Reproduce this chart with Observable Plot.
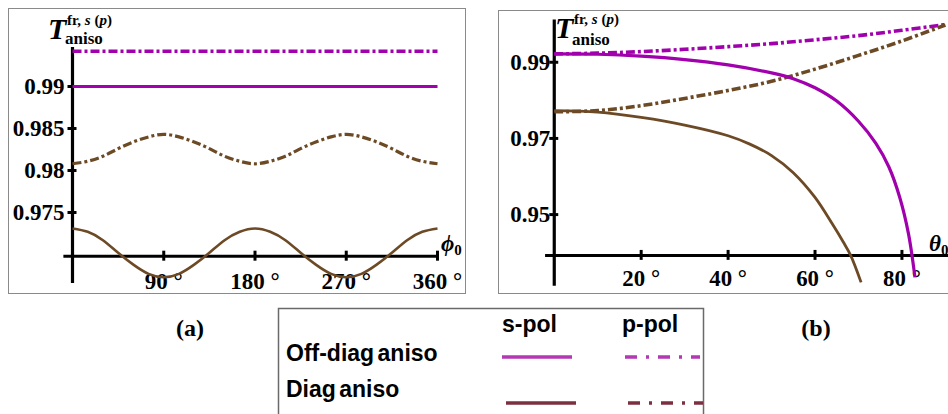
<!DOCTYPE html>
<html>
<head>
<meta charset="utf-8">
<script src="https://cdn.jsdelivr.net/npm/d3@7"></script>
<script src="https://cdn.jsdelivr.net/npm/@observablehq/plot@0.6"></script>
<style>
  html, body { margin: 0; padding: 0; background: #fff; }
  #page { position: relative; width: 948px; height: 414px; overflow: hidden; background: #fff; font-family: "Liberation Serif", serif; }
  .abs { position: absolute; }
  .frame { position: absolute; border: 1.5px solid #8a8a8a; box-sizing: border-box; pointer-events: none; }
</style>
</head>
<body>
<div id="page">
  <div id="pa" class="abs" style="left:8px; top:8px;"></div>
  <div id="pb" class="abs" style="left:498px; top:10px;"></div>
  <div class="frame" style="left:8px; top:8px; width:458px; height:286px;"></div>
  <div class="frame" style="left:498px; top:10px; width:460px; height:284px;"></div>
  <svg class="abs" style="left:0; top:0;" width="948" height="414" font-family="Liberation Serif" font-weight="bold">
    <!-- axis titles panel (a) -->
    <text x="48" y="39" font-size="30" font-style="italic">T</text>
    <text x="67" y="25" font-size="15">fr, <tspan font-style="italic">s</tspan> (<tspan font-style="italic">p</tspan>)</text>
    <text x="65" y="44" font-size="17">aniso</text>
    <text x="441" y="251" font-size="23" font-style="italic">ϕ<tspan font-size="15" font-style="normal" dy="4">0</tspan></text>
    <!-- axis titles panel (b) -->
    <text x="555" y="38" font-size="30" font-style="italic">T</text>
    <text x="574" y="24" font-size="15">fr, <tspan font-style="italic">s</tspan> (<tspan font-style="italic">p</tspan>)</text>
    <text x="572" y="45" font-size="17">aniso</text>
    <text x="929" y="251" font-size="23" font-style="italic">θ<tspan font-size="15" font-style="normal" dy="4">0</tspan></text>
    <!-- panel captions -->
    <text x="190" y="336" font-size="24" text-anchor="middle">(a)</text>
    <text x="816" y="336" font-size="24" text-anchor="middle">(b)</text>
    <!-- legend -->
    <g font-family="Liberation Sans" font-weight="bold" font-size="23">
      <rect x="278.5" y="308.5" width="425" height="130" fill="none" stroke="#6a6a6a" stroke-width="1.5"></rect>
      <text x="502" y="332">s-pol</text>
      <text x="622" y="332">p-pol</text>
      <text x="286" y="361" word-spacing="-3">Off-diag aniso</text>
      <text x="286" y="397" word-spacing="-3">Diag aniso</text>
      <line x1="502" x2="572" y1="357" y2="357" stroke="#b438b4" stroke-width="3.5"></line>
      <line x1="625" x2="700" y1="357" y2="357" stroke="#b438b4" stroke-width="3.5" stroke-dasharray="12,9,3,9"></line>
      <line x1="506" x2="576" y1="403" y2="403" stroke="#7b2f3f" stroke-width="3.5"></line>
      <line x1="628" x2="703" y1="403" y2="403" stroke="#7b2f3f" stroke-width="3.5" stroke-dasharray="12,9,3,9"></line>
    </g>
  </svg>
</div>
<script>
// ---------- Panel (a): T vs phi0 ----------
const phiA = [0,15,30,45,60,75,90,105,120,135,150,165,180,195,210,225,240,255,270,285,300,315,330,345,360];
const offDiagS_A = [0.99,0.99,0.99,0.99,0.99,0.99,0.99,0.99,0.99,0.99,0.99,0.99,0.99,0.99,0.99,0.99,0.99,0.99,0.99,0.99,0.99,0.99,0.99,0.99,0.99];
const offDiagP_A = [0.9942,0.9942,0.9942,0.9942,0.9942,0.9942,0.9942,0.9942,0.9942,0.9942,0.9942,0.9942,0.9942,0.9942,0.9942,0.9942,0.9942,0.9942,0.9942,0.9942,0.9942,0.9942,0.9942,0.9942,0.9942];
const diagS_A = [0.9731,0.9727,0.9717,0.9702,0.9688,0.9677,0.9673,0.9677,0.9688,0.9702,0.9717,0.9727,0.9731,0.9727,0.9717,0.9702,0.9688,0.9677,0.9673,0.9677,0.9688,0.9702,0.9717,0.9727,0.9731];
const diagP_A = [0.9808,0.9811,0.9817,0.9826,0.9834,0.9840,0.9843,0.9840,0.9834,0.9826,0.9817,0.9811,0.9808,0.9811,0.9817,0.9826,0.9834,0.9840,0.9843,0.9840,0.9834,0.9826,0.9817,0.9811,0.9808];
const xTicksA = [90,180,270,360];
const xTickLabelsA = ["90 °","180 °","270 °","360 °"];
const yTicksA = [0.99,0.985,0.98,0.975];
const yTickLabelsA = ["0.99","0.985","0.98","0.975"];

// ---------- Panel (b): T vs theta0 ----------
const thetaOffS_B = [0,10,20,30,40,50,55,60,65,70,74,77,79.5,81.5,83];
const offDiagS_B = [0.9922,0.9921,0.9916,0.9907,0.9893,0.9872,0.9857,0.9833,0.9798,0.9745,0.9687,0.9625,0.9545,0.9450,0.9335];
const thetaOffP_B = [0,10,20,30,40,50,60,70,80,90];
const offDiagP_B = [0.9922,0.9924,0.9928,0.9934,0.9941,0.9949,0.9959,0.9970,0.9984,0.9999];
const thetaDiagS_B = [0,10,20,30,40,45,50,55,60,64,66.5,68.2,70.6];
const diagS_B = [0.9773,0.9769,0.9755,0.9735,0.9707,0.9685,0.9655,0.9610,0.9545,0.9475,0.9428,0.9393,0.9322];
const thetaDiagP_B = [0,10,20,30,40,50,60,70,80,90];
const diagP_B = [0.9770,0.9773,0.9786,0.9805,0.9826,0.9850,0.9882,0.9918,0.9956,0.9998];
const xTicksB = [20,40,60,80];
const xTickLabelsB = ["20 °","40 °","60 °","80 °"];
const yTicksB = [0.99,0.97,0.95];
const yTickLabelsB = ["0.99","0.97","0.95"];

const MAG = "#a100ad";
const BRN = "#6d4a26";
const DASHDOT = "9,3,3,3";
const FONT = "Liberation Serif";

const pts = (xs, ys) => xs.map((x, i) => ({x, y: ys[i]}));

function axisMarks({xAxisAt, xAxisFrom, xAxisTo, yAxisFrom, yAxisTo, xTicks, xLabels, yTicks, yLabels, xLabelDy, yLabelDx}) {
  return [
    Plot.ruleX([0], {x: d => d, y1: () => yAxisFrom, y2: () => yAxisTo, stroke: "#000", strokeWidth: 3.2}),
    Plot.ruleY([xAxisAt], {y: d => d, x1: () => xAxisFrom, x2: () => xAxisTo, stroke: "#000", strokeWidth: 3}),
    Plot.ruleX(xTicks, {x: d => d, y1: () => xAxisAt, y2: () => xAxisAt, insetTop: -5, insetBottom: -5, stroke: "#000", strokeWidth: 3}),
    Plot.ruleY(yTicks, {y: d => d, x1: () => 0, x2: () => 0, insetLeft: -4.5, insetRight: -4.5, stroke: "#000", strokeWidth: 3}),
    Plot.text(xTicks, {x: d => d, y: () => xAxisAt, text: (d, i) => xLabels[i], dy: xLabelDy, fontSize: 23, fontWeight: "bold", fontFamily: FONT, fill: "#000"}),
    Plot.text(yTicks, {x: () => 0, y: d => d, text: (d, i) => yLabels[i], dx: yLabelDx, textAnchor: "end", fontSize: 23, fontWeight: "bold", fontFamily: FONT, fill: "#000"})
  ];
}

const lineOpts = {x: "x", y: "y", strokeLinecap: "butt", strokeLinejoin: "round"};

const plotA = Plot.plot({
  width: 457, height: 285,
  marginLeft: 64, marginRight: 28, marginTop: 36, marginBottom: 5.4,
  x: {domain: [0, 360], axis: null},
  y: {domain: [0.966, 0.995], axis: null},
  style: {background: "transparent", overflow: "visible"},
  marks: [
    ...axisMarks({xAxisAt: 0.9698, xAxisFrom: -8.5, xAxisTo: 360, yAxisFrom: 0.96655, yAxisTo: 0.99464,
      xTicks: xTicksA, xLabels: xTickLabelsA, yTicks: yTicksA, yLabels: yTickLabelsA, xLabelDy: 25, yLabelDx: -8}),
    Plot.line(pts(phiA, offDiagP_A), {...lineOpts, stroke: MAG, strokeWidth: 3.4, strokeDasharray: DASHDOT}),
    Plot.line(pts(phiA, offDiagS_A), {...lineOpts, stroke: MAG, strokeWidth: 3.2}),
    Plot.line(pts(phiA, diagP_A), {...lineOpts, stroke: BRN, strokeWidth: 3.2, strokeDasharray: DASHDOT, curve: "natural"}),
    Plot.line(pts(phiA, diagS_A), {...lineOpts, stroke: BRN, strokeWidth: 2.6, curve: "natural"})
  ]
});
document.getElementById("pa").appendChild(plotA);

const plotB = Plot.plot({
  width: 452, height: 283,
  marginLeft: 56, marginRight: 3.1, marginTop: 6.1, marginBottom: 1.5,
  x: {domain: [0, 90], axis: null},
  y: {domain: [0.93, 1.002], axis: null},
  style: {background: "transparent", overflow: "visible"},
  marks: [
    ...axisMarks({xAxisAt: 0.93928, xAxisFrom: -2, xAxisTo: 92, yAxisFrom: 0.9312, yAxisTo: 1.0011,
      xTicks: xTicksB, xLabels: xTickLabelsB, yTicks: yTicksB, yLabels: yTickLabelsB, xLabelDy: 23, yLabelDx: -4}),
    Plot.line(pts(thetaOffP_B, offDiagP_B), {...lineOpts, stroke: MAG, strokeWidth: 3.6, strokeDasharray: DASHDOT, curve: "catmull-rom"}),
    Plot.line(pts(thetaDiagP_B, diagP_B), {...lineOpts, stroke: BRN, strokeWidth: 3.6, strokeDasharray: DASHDOT, curve: "catmull-rom"}),
    Plot.line(pts(thetaDiagS_B, diagS_B), {...lineOpts, stroke: BRN, strokeWidth: 2.8, curve: "catmull-rom"}),
    Plot.line(pts(thetaOffS_B, offDiagS_B), {...lineOpts, stroke: MAG, strokeWidth: 3.2, curve: "catmull-rom"})
  ]
});
document.getElementById("pb").appendChild(plotB);
</script>
</body>
</html>
